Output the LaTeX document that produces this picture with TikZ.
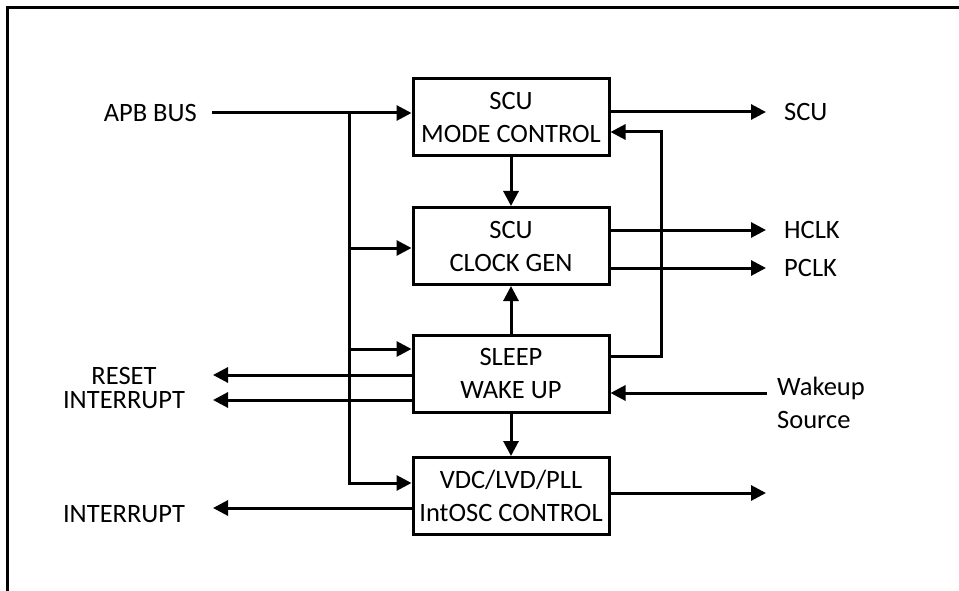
\documentclass[tikz,border=0pt]{standalone}
\usepackage{fontspec}
\setmainfont{Carlito}
\usetikzlibrary{arrows.meta}
\begin{document}
\begin{tikzpicture}[x=1pt,y=-1pt,
  blk/.style={draw,line width=3pt,minimum width=196pt,minimum height=77pt,align=center,inner sep=0pt,font=\fontsize{26.5}{33}\selectfont},
  lbl/.style={font=\fontsize{26.5}{24}\selectfont,inner sep=0pt},
  wire/.style={line width=3pt},
  arr/.style={wire,-{Triangle[length=15pt,width=15pt]}}]
\useasboundingbox (0,0) rectangle (959,591);
\draw[line width=2.5pt] (7.5,591) -- (7.5,7.5) -- (959,7.5);

% blocks
\node[blk] (m1) at (511,117) {SCU\\MODE CONTROL};
\node[blk] (m2) at (511,246) {SCU\\CLOCK GEN};
\node[blk] (m3) at (511,373.5) {SLEEP\\WAKE UP};
\node[blk] (m4) at (511,496) {VDC/LVD/PLL\\IntOSC CONTROL};

% labels
\node[lbl,anchor=east] (apb) at (197,113) {APB BUS};
\node[lbl,anchor=west] (scu) at (784,112) {SCU};
\node[lbl,anchor=west] (hclk) at (784,230) {HCLK};
\node[lbl,anchor=west] (pclk) at (784,268) {PCLK};
\node[lbl,anchor=west,align=left,font=\fontsize{26.5}{33}\selectfont] (wake) at (777,403) {Wakeup\\Source};
\node[lbl,align=center] (rst) at (124,388) {RESET\\INTERRUPT};
\node[lbl] (intr) at (124,514) {INTERRUPT};

% coordinates
\coordinate (apbS) at (212,113);
\coordinate (bt) at (349,113);
\coordinate (b2) at (349,248);
\coordinate (b3) at (349,349);
\coordinate (bb) at (349,483);
\coordinate (scuE) at (766,112);
\coordinate (hE) at (766,230);
\coordinate (pE) at (766,268);
\coordinate (fb1) at (661,356);
\coordinate (fb2) at (661,132);
\coordinate (wk) at (767,393);
\coordinate (rE) at (213,375);
\coordinate (iE) at (213,400);
\coordinate (i2E) at (213,508);
\coordinate (oE) at (766,493);

% bus
\draw[arr] (apbS) -- (apbS -| m1.west);
\draw[arr] (bt) -- (bb) -- (bb -| m4.west);
\draw[arr] (b2) -- (b2 -| m2.west);
\draw[arr] (b3) -- (b3 -| m3.west);

% vertical
\draw[arr] (m1) -- (m2);
\draw[arr] (m3) -- (m2);
\draw[arr] (m3) -- (m4);

% outputs
\draw[arr] (scuE -| m1.east) -- (scuE);
\draw[arr] (hE -| m2.east) -- (hE);
\draw[arr] (pE -| m2.east) -- (pE);
\draw[arr] (fb1 -| m3.east) -- (fb1) -- (fb2) -- (fb2 -| m1.east);
\draw[arr] (wk) -- (wk -| m3.east);
\draw[arr] (rE -| m3.west) -- (rE);
\draw[arr] (iE -| m3.west) -- (iE);
\draw[arr] (i2E -| m4.west) -- (i2E);
\draw[arr] (oE -| m4.east) -- (oE);
\end{tikzpicture}
\end{document}
